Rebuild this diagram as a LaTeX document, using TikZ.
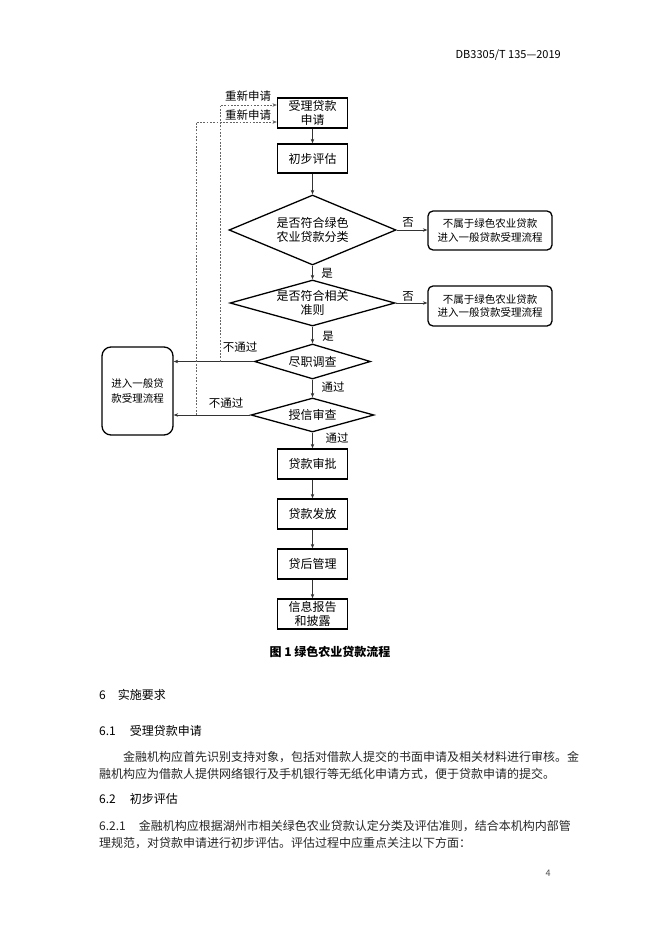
\documentclass[tikz,border=0pt]{standalone}
\usepackage{fontspec}
\setmainfont{Noto Sans CJK SC}
\usetikzlibrary{shapes.geometric,arrows.meta}
\begin{document}
\begin{tikzpicture}[x=1pt,y=-1pt,
  box/.style={draw,line width=1.3pt,minimum width=70pt,minimum height=30pt,inner sep=0pt,align=center,font=\fontsize{12}{14}\selectfont},
  rbox/.style={draw,line width=1.3pt,rounded corners=5pt,minimum width=124pt,minimum height=39pt,inner sep=0pt,align=center,font=\fontsize{10.5}{13.5}\selectfont},
  dia/.style={draw,diamond,line width=1.3pt,inner sep=0pt},
  dtext/.style={align=center,font=\fontsize{12}{14}\selectfont,inner sep=0pt},
  conn/.style={draw=black!80,line width=0.6pt,-{Stealth[length=4.5pt,width=3.5pt]}},
  back/.style={draw=black!60,line width=0.5pt,dash pattern=on 1.8pt off 1.5pt,-{Stealth[length=4.5pt,width=3.5pt]}},
  lbl/.style={font=\fontsize{11.5}{13}\selectfont,inner sep=0pt},
  txt/.style={anchor=west,inner sep=0pt,font=\fontsize{12}{14}\selectfont,text=black!85},
  head/.style={anchor=west,inner sep=0pt,font=\fontsize{12}{14}\selectfont}
]
\useasboundingbox (0,0) rectangle (662,936);

% header
\node[inner sep=0pt,anchor=east,font=\fontsize{11}{13}\selectfont] (hdr) at (561,55) {DB3305/T 135—2019};

% flow nodes
\node[box] (acc) at (312.5,113) {受理贷款\\申请};
\node[box,minimum height=29pt] (eval) at (312.5,158.5) {初步评估};
\node[dia,minimum width=167pt,minimum height=70pt,label={[dtext]center:是否符合绿色\\农业贷款分类}] (d1) at (312.5,230) {};
\node[rbox] (r1) at (490,230.5) {不属于绿色农业贷款\\进入一般贷款受理流程};
\node[dia,minimum width=165pt,minimum height=46pt,label={[dtext]center:是否符合相关\\准则}] (d2) at (312.5,303) {};
\node[rbox,minimum height=40pt] (r2) at (490,306) {不属于绿色农业贷款\\进入一般贷款受理流程};
\node[dia,minimum width=116pt,minimum height=35pt,label={[dtext]center:尽职调查}] (d3) at (312.5,361.5) {};
\node[dia,minimum width=123pt,minimum height=34pt,label={[dtext]center:授信审查}] (d4) at (312.5,415) {};
\node[draw,line width=1.3pt,rounded corners=9pt,minimum width=71pt,minimum height=88pt,inner sep=0pt,align=center,font=\fontsize{10.5}{15}\selectfont] (gen) at (137.5,391) {进入一般贷\\款受理流程};
\node[box] (b1) at (312.5,464) {贷款审批};
\node[box] (b2) at (312.5,514) {贷款发放};
\node[box] (b3) at (312.5,564) {贷后管理};
\node[box] (b4) at (312.5,614) {信息报告\\和披露};

% connectors
\draw[conn] (acc) -- (eval);
\draw[conn] (eval) -- (d1);
\draw[conn] (d1.east) -- (d1.east -| r1.west);
\draw[conn] (d1) -- (d2);
\draw[conn] (d2.east) -- (d2.east -| r2.west);
\draw[conn] (d2) -- (d3);
\draw[conn] (d3) -- (d4);
\draw[conn] (d4) -- (b1);
\draw[conn] (b1) -- (b2);
\draw[conn] (b2) -- (b3);
\draw[conn] (b3) -- (b4);
\draw[conn] (d3.west) -- (d3.west -| gen.east);
\draw[conn] (d4.west) -- (d4.west -| gen.east);

% dashed returns
\coordinate (ret1) at (220,361.5);
\coordinate (ret2) at (196,415);
\draw[back] (ret1) |- (acc.west |- 0,105);
\draw[back] (ret2) |- (acc.west |- 0,122);

% labels
\node[lbl] (l1) at (408,222) {否};
\node[lbl] (l2) at (408,296) {否};
\node[lbl] (l3) at (327,273) {是};
\node[lbl] (l4) at (328,336) {是};
\node[lbl] (l5) at (333,387) {通过};
\node[lbl] (l6) at (337,438) {通过};
\node[lbl] (l7) at (240,347) {不通过};
\node[lbl] (l8) at (226,403) {不通过};
\node[lbl] (l9) at (248,96) {重新申请};
\node[lbl] (l10) at (248,115) {重新申请};

% caption
\node[inner sep=0pt,font=\fontsize{12}{14}\bfseries] (cap) at (330,652) {图 1 绿色农业贷款流程};

% text body
\node[head] (h6) at (99,695) {6\hspace{12pt}实施要求};
\node[head] (h61) at (99,731) {6.1\hspace{14pt}受理贷款申请};
\node[txt] (p1) at (123,757) {金融机构应首先识别支持对象，包括对借款人提交的书面申请及相关材料进行审核。金};
\node[txt] (p2) at (99,774) {融机构应为借款人提供网络银行及手机银行等无纸化申请方式，便于贷款申请的提交。};
\node[head] (h62) at (99,799) {6.2\hspace{14pt}初步评估};
\node[txt] (p3) at (99,826) {6.2.1\hspace{13pt}金融机构应根据湖州市相关绿色农业贷款认定分类及评估准则，结合本机构内部管};
\node[txt] (p4) at (99,843) {理规范，对贷款申请进行初步评估。评估过程中应重点关注以下方面：};

% page number
\node[inner sep=0pt,font=\fontsize{9}{10}\selectfont,text=black!70] (pg) at (548,873) {4};
\end{tikzpicture}
\end{document}
